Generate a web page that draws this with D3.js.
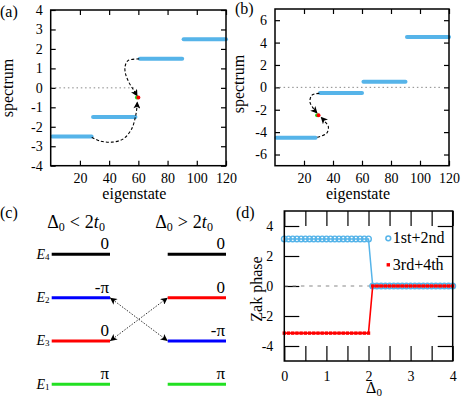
<!DOCTYPE html>
<html lang="en">
<head>
<meta charset="UTF-8" />
<script src="https://d3js.org/d3.v7.min.js"></script>
<title>Spectrum and Zak phase</title>
<style>
  body { margin: 0; background: #fff; }
  .frame { fill: none; stroke: #000; stroke-width: 1.5; }
</style>
</head>
<body>
<svg id="fig" width="463" height="397"></svg>
<script>
// ---------- data ----------
// bands of the spectrum: [first eigenstate, last eigenstate, energy]
const bandsA = [[1, 28, -2.5], [29, 58, -1.5], [61, 90, 1.5], [91, 120, 2.5]];
const bandsB = [[1, 28, -4.5], [31, 60, -0.5], [61, 90, 0.5], [91, 120, 4.5]];
// edge states: [eigenstate, energy]  (first green, second red)
const edgeA = [[59, -0.5], [60, -0.5]];
const edgeB = [[29, -2.5], [30, -2.5]];
// dotted zero line extent [from, to]
const zeroA = [0, 58];
const zeroB = [0, 114];
// curved arrows, in data units, ending on the edge states
const curvesA = [
  [[60.6, 1.49], [52.9, 1.40], [50.9, 1.09], [51.2, 0.73], [53.6, 0.27], [57.0, -0.14], [59.4, -0.45]],
  [[28.1, -2.54], [33.7, -2.73], [41.8, -2.79], [49.7, -2.62], [55.4, -2.11], [58.4, -1.34], [59.3, -0.70]]
];
const curvesB = [
  [[30.6, -0.54], [25.5, -0.69], [24.1, -1.29], [26.4, -1.88], [29.3, -2.34]],
  [[29.2, -4.46], [35.6, -4.11], [36.8, -3.52], [34.5, -3.07], [31.5, -2.63]]
];
const eigenTicks = [20, 40, 60, 80, 100, 120];
const specTicksA = [-4, -3, -2, -1, 0, 1, 2, 3, 4];
const specTicksB = [-6, -4, -2, 0, 2, 4, 6];

// panel (c)
const levelNames = ["E4", "E2", "E3", "E1"];
const phasesLeft = ["0", "-π", "0", "π"];
const phasesRight = ["0", "0", "-π", "π"];
const swaps = [["E2", "E3"], ["E3", "E2"]];

// panel (d): Zak phase vs Delta_0
const delta0 = [0, 0.1, 0.2, 0.3, 0.4, 0.5, 0.6, 0.7, 0.8, 0.9, 1.0, 1.1, 1.2, 1.3, 1.4, 1.5, 1.6, 1.7, 1.8, 1.9, 2.0,
  2.1, 2.2, 2.3, 2.4, 2.5, 2.6, 2.7, 2.8, 2.9, 3.0, 3.1, 3.2, 3.3, 3.4, 3.5, 3.6, 3.7, 3.8, 3.9, 4.0];
const zak12 = [3.1416, 3.1416, 3.1416, 3.1416, 3.1416, 3.1416, 3.1416, 3.1416, 3.1416, 3.1416, 3.1416,
  3.1416, 3.1416, 3.1416, 3.1416, 3.1416, 3.1416, 3.1416, 3.1416, 3.1416, 3.1416,
  0, 0, 0, 0, 0, 0, 0, 0, 0, 0, 0, 0, 0, 0, 0, 0, 0, 0, 0, 0];
const zak34 = [-3.1416, -3.1416, -3.1416, -3.1416, -3.1416, -3.1416, -3.1416, -3.1416, -3.1416, -3.1416, -3.1416,
  -3.1416, -3.1416, -3.1416, -3.1416, -3.1416, -3.1416, -3.1416, -3.1416, -3.1416, -3.1416,
  0, 0, 0, 0, 0, 0, 0, 0, 0, 0, 0, 0, 0, 0, 0, 0, 0, 0, 0, 0];
const zakXTicks = [0, 0.5, 1, 1.5, 2, 2.5, 3, 3.5, 4];
const zakYTicks = [-4, -2, 0, 2, 4];
const legendNames = ["1st+2nd", "3rd+4th"];

// colours
const skyBlue = "#56b4e9";
const red = "#ff0000";
const green = "#22e022";
const blue = "#0000ff";

const svg = d3.select("#fig");
const serif = '"Liberation Serif"';

// arrowhead marker
const defs = svg.append("defs");
defs.append("marker")
  .attr("id", "head")
  .attr("viewBox", "0 0 10 10")
  .attr("refX", 10).attr("refY", 5)
  .attr("markerWidth", 9).attr("markerHeight", 7)
  .attr("markerUnits", "userSpaceOnUse")
  .attr("orient", "auto-start-reverse")
  .append("path").attr("d", "M0,0 L10,5 L0,10 L2.5,5 z").attr("fill", "#000");

// frame with inward ticks on all sides
function frameAxes(g, x, y, xt, yt, tickLen, padX, padY, xFormat) {
  const [xl, xr] = x.range();
  const [yb, yt0] = y.range();
  const axes = [
    g.append("g").attr("transform", `translate(0,${yb})`)
      .call(d3.axisBottom(x).tickValues(xt).tickSize(-tickLen).tickPadding(padX).tickFormat(xFormat)),
    g.append("g").attr("transform", `translate(0,${yt0})`)
      .call(d3.axisTop(x).tickValues(xt).tickSize(-tickLen).tickFormat("")),
    g.append("g").attr("transform", `translate(${xl},0)`)
      .call(d3.axisLeft(y).tickValues(yt).tickSize(-tickLen).tickPadding(padY).tickFormat(d => String(d))),
    g.append("g").attr("transform", `translate(${xr},0)`)
      .call(d3.axisRight(y).tickValues(yt).tickSize(-tickLen).tickFormat(""))
  ];
  axes.forEach(a => {
    a.select(".domain").remove();
    a.attr("font-size", 14);
    a.selectAll("line").attr("stroke-width", 1.2);
  });
}

function drawFrame(g, x, y) {
  const [xl, xr] = x.range();
  const [yb, yt0] = y.range();
  g.append("rect").attr("class", "frame")
    .attr("x", xl).attr("y", yt0).attr("width", xr - xl).attr("height", yb - yt0);
}

// ---------- panels (a) and (b) ----------
function drawSpectrum(opt) {
  const g = svg.append("g");
  const x = d3.scaleLinear().domain([0, 120]).range(opt.xRange);
  const y = d3.scaleLinear().domain(opt.yDomain).range(opt.yRange);

  frameAxes(g, x, y, eigenTicks, opt.yTicks, 5, 7, 8, d => String(d));

  g.append("line")
    .attr("x1", x(opt.zero[0])).attr("x2", x(opt.zero[1]))
    .attr("y1", y(0)).attr("y2", y(0))
    .attr("stroke", "#888").attr("stroke-width", 1)
    .attr("stroke-dasharray", "1.5,2.8");

  g.selectAll("line.band").data(opt.bands).join("line")
    .attr("class", "band")
    .attr("x1", d => x(d[0])).attr("x2", d => x(d[1]))
    .attr("y1", d => y(d[2])).attr("y2", d => y(d[2]))
    .attr("stroke", skyBlue).attr("stroke-width", 4)
    .attr("stroke-linecap", "round");

  const curve = d3.line().x(d => x(d[0])).y(d => y(d[1])).curve(d3.curveCatmullRom);
  g.selectAll("path.curve").data(opt.curves).join("path")
    .attr("class", "curve")
    .attr("d", curve)
    .attr("fill", "none").attr("stroke", "#000").attr("stroke-width", 1.1)
    .attr("stroke-dasharray", "3,2")
    .attr("marker-end", "url(#head)");

  g.selectAll("circle.edge").data(opt.edge).join("circle")
    .attr("class", "edge")
    .attr("cx", d => x(d[0])).attr("cy", d => y(d[1])).attr("r", 2)
    .attr("fill", (d, i) => i === 0 ? green : red);

  drawFrame(g, x, y);

  g.append("text").attr("x", (opt.xRange[0] + opt.xRange[1]) / 2 - 4).attr("y", 198.5)
    .attr("text-anchor", "middle").attr("font-size", 16).text("eigenstate");
  g.append("text")
    .attr("transform", `translate(${opt.yLabel[0]},${opt.yLabel[1]}) rotate(-90)`)
    .attr("text-anchor", "middle").attr("font-size", 16).text("spectrum");
  g.append("text").attr("x", opt.tag[0]).attr("y", opt.tag[1])
    .attr("font-size", 16).text(opt.tagText);
}

drawSpectrum({
  xRange: [50.7, 226], yDomain: [-4, 4], yRange: [165.7, 10], yTicks: specTicksA,
  bands: bandsA, edge: edgeA, zero: zeroA, curves: curvesA,
  yLabel: [13, 88], tag: [0, 17], tagText: "(a)"
});
drawSpectrum({
  xRange: [275, 449], yDomain: [-7, 7], yRange: [165.7, 9], yTicks: specTicksB,
  bands: bandsB, edge: edgeB, zero: zeroB, curves: curvesB,
  yLabel: [244, 84], tag: [235, 14], tagText: "(b)"
});

// ---------- panel (c) ----------
{
  const g = svg.append("g");
  const yLevel = d3.scalePoint().domain(levelNames).range([254.3, 384.3]);
  const cols = [
    { x0: 51.7, x1: 110, phases: phasesLeft, colors: ["#000", blue, red, green], cmp: "<", cx: 76 },
    { x0: 167.7, x1: 226, phases: phasesRight, colors: ["#000", red, blue, green], cmp: ">", cx: 184 }
  ];

  cols.forEach(c => {
    g.selectAll(null).data(levelNames).join("line")
      .attr("x1", c.x0).attr("x2", c.x1)
      .attr("y1", d => yLevel(d)).attr("y2", d => yLevel(d))
      .attr("stroke", (d, i) => c.colors[i]).attr("stroke-width", 3);
    g.selectAll(null).data(levelNames).join("text")
      .attr("x", c.x1 - 1).attr("y", d => yLevel(d) - 5)
      .attr("text-anchor", "end").attr("font-size", 17)
      .text((d, i) => c.phases[i]);

    const h = g.append("text").attr("x", c.cx).attr("y", 227.5)
      .attr("text-anchor", "middle").attr("font-size", 18);
    h.append("tspan").text("Δ");
    h.append("tspan").attr("font-size", 12).attr("dy", 3).text("0");
    h.append("tspan").attr("dy", -3).attr("dx", 5).text(c.cmp);
    h.append("tspan").attr("dx", 5).text("2");
    h.append("tspan").attr("font-style", "italic").text("t");
    h.append("tspan").attr("font-size", 12).attr("dy", 3).text("0");
  });

  // E labels
  const el = g.selectAll(null).data(levelNames).join("text")
    .attr("x", 49.5).attr("y", d => yLevel(d) + 4.5)
    .attr("text-anchor", "end").attr("font-size", 14);
  el.append("tspan").attr("font-style", "italic").text("E");
  el.append("tspan").attr("font-size", 9).attr("dy", 1).text(d => d.slice(1));

  // crossing double arrows
  g.selectAll(null).data(swaps).join("line")
    .attr("x1", cols[0].x1).attr("y1", d => yLevel(d[0]))
    .attr("x2", cols[1].x0).attr("y2", d => yLevel(d[1]))
    .attr("stroke", "#333").attr("stroke-width", 1)
    .attr("stroke-dasharray", "1.5,1.5")
    .attr("marker-start", "url(#head)").attr("marker-end", "url(#head)");

  g.append("text").attr("x", 0).attr("y", 218).attr("font-size", 16).text("(c)");
}

// ---------- panel (d) ----------
{
  const g = svg.append("g");
  const x = d3.scaleLinear().domain([0, 4]).range([284.3, 452.7]);
  const y = d3.scaleLinear().domain([-5, 5]).range([361, 211]);

  frameAxes(g, x, y, zakXTicks, zakYTicks, 15, 10.2, 11, d => Number.isInteger(d) ? String(d) : "");

  g.append("line")
    .attr("x1", x(0)).attr("x2", x(4)).attr("y1", y(0)).attr("y2", y(0))
    .attr("stroke", "#888").attr("stroke-width", 1.2).attr("stroke-dasharray", "3.5,4.8");

  const pts12 = delta0.map((d, i) => [d, zak12[i]]);
  const pts34 = delta0.map((d, i) => [d, zak34[i]]);
  const line = d3.line().x(d => x(d[0])).y(d => y(d[1]));

  g.append("path").attr("d", line(pts12)).attr("fill", "none")
    .attr("stroke", skyBlue).attr("stroke-width", 1.5);
  g.selectAll("circle.p12").data(pts12).join("circle")
    .attr("class", "p12")
    .attr("cx", d => x(d[0])).attr("cy", d => y(d[1])).attr("r", 2.8)
    .attr("fill", "none").attr("stroke", skyBlue).attr("stroke-width", 1.4);

  g.append("path").attr("d", line(pts34)).attr("fill", "none")
    .attr("stroke", red).attr("stroke-width", 1.6);
  g.selectAll("rect.p34").data(pts34).join("rect")
    .attr("class", "p34")
    .attr("x", d => x(d[0]) - 1.7).attr("y", d => y(d[1]) - 1.7)
    .attr("width", 3.4).attr("height", 3.4).attr("fill", red);

  drawFrame(g, x, y);

  // legend
  const lg = g.selectAll("g.leg").data(legendNames).join("g")
    .attr("class", "leg")
    .attr("transform", (d, i) => `translate(388.3,${238.3 + i * 26.5})`);
  lg.filter((d, i) => i === 0).append("circle").attr("r", 2.4)
    .attr("fill", "none").attr("stroke", skyBlue).attr("stroke-width", 1.5);
  lg.filter((d, i) => i === 1).append("rect").attr("x", -1.7).attr("y", -1.7)
    .attr("width", 3.4).attr("height", 3.4).attr("fill", red);
  lg.append("text").attr("x", 4.5).attr("y", 5).attr("font-size", 16).text(d => d);

  // axis labels
  const xl = g.append("text").attr("x", 374).attr("y", 393).attr("text-anchor", "middle").attr("font-size", 16);
  xl.append("tspan").text("Δ");
  xl.append("tspan").attr("font-size", 11).attr("dy", 3).text("0");
  g.append("text").attr("transform", "translate(262,289) rotate(-90)")
    .attr("text-anchor", "middle").attr("font-size", 16).text("Zak phase");
  g.append("text").attr("x", 236).attr("y", 218).attr("font-size", 16).text("(d)");
}

// serif type everywhere
svg.selectAll("text").style("font-family", serif).style("fill", "#000");
</script>
</body>
</html>
